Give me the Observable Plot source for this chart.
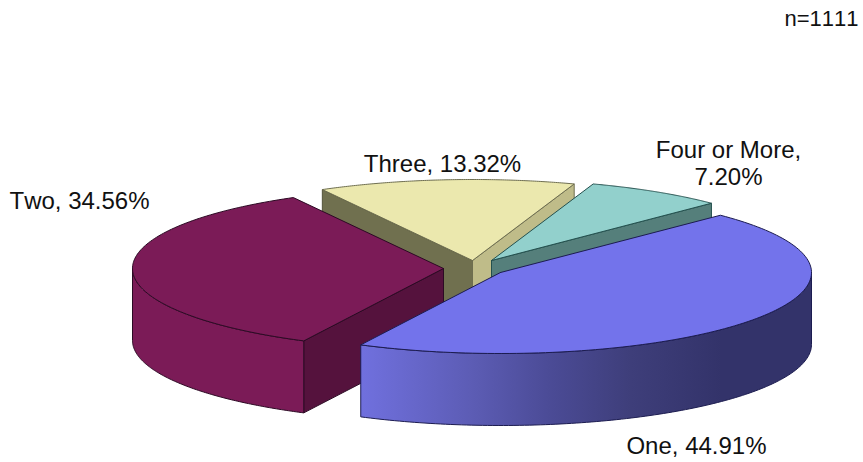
<!DOCTYPE html>
<html>
<head>
<meta charset="utf-8">
<script src="https://cdn.jsdelivr.net/npm/d3@7"></script>
<script src="https://cdn.jsdelivr.net/npm/@observablehq/plot@0.6"></script>
<style>
html,body{margin:0;padding:0;background:#fff}
svg{display:block}
svg text{font-kerning:none}
</style>
</head>
<body>
<div id="chart"></div>
<script>
// Data, in the order the slices run clockwise from the front-left corner
const categories = ["Two", "Three", "Four or More", "One"];
const shares = [34.56, 13.32, 7.20, 44.91];
const sampleSize = "n=1111";

// Colours per slice
const topColors = ["#7b1b57", "#ebe8ae", "#92d0cc", "#7373eb"];
const strokeColors = ["#2c0a24", "#6e6e50", "#24504e", "#1c1c50"];

// Pie layout in scale units
const startAngle = 116.7, rx = 311, ry = 81, depth = 72;
const centerX = [443, 472, 491, 500];
const centerY = [268, 260, 260, 272];

// Label layout
const labelText = ["Two, 34.56%", "Three, 13.32%", "Four or More,\n7.20%", "One, 44.91%"];
const labelX = [79, 442, 728, 696];
const labelY = [200, 163, 162, 445];

const total = d3.sum(shares);
const rad = d => d * Math.PI / 180;
let acc = startAngle;
const slices = categories.map((name, i) => {
  const a0 = acc, a1 = acc + shares[i] / total * 360;
  acc = a1;
  return {name, i, a0, a1, cx: centerX[i], cy: centerY[i]};
});
const rim = (s, t, dz = 0) => ({x: s.cx + rx * Math.cos(rad(t)), y: s.cy + ry * Math.sin(rad(t)) + dz});
const arc = (s, a, b, dz = 0) => d3.range(0, 121).map(k => rim(s, a + (b - a) * k / 120, dz));
const closed = pts => [...pts, pts[0]];

const polys = [];
const add = (pts, fill, stroke) => polys.push({pts: closed(pts), fill, stroke});
const cutFace = (s, t, fill, stroke) => {
  const p = rim(s, t), q = rim(s, t, depth), c = {x: s.cx, y: s.cy}, d = {x: s.cx, y: s.cy + depth};
  add([c, p, q, d], fill, stroke);
};
const outer = (s, a, b, fill, stroke) => add([...arc(s, a, b), ...arc(s, b, a, depth)], fill, stroke);
const topFace = s => add([{x: s.cx, y: s.cy}, ...arc(s, s.a0, s.a1)], topColors[s.i], strokeColors[s.i]);

const [two, three, four, one] = slices;
// back to front
cutFace(three, three.a0, "#70704f", "#55553c");
cutFace(three, three.a1, "#bfbc89", "#6e6e50");
topFace(three);
cutFace(four, four.a1, "#557f7b", "#24504e");
topFace(four);
cutFace(two, two.a0, "#55123d", "#2c0a24");
outer(two, 180, two.a0, "#7b1b57", "#2c0a24");
topFace(two);
outer(one, 0, one.a1 - 360, "url(#oneSide)", "#1c1c50");
topFace(one);

const rows = polys.flatMap((p, id) => p.pts.map(q => ({...q, id, fill: p.fill, stroke: p.stroke})));
const lineMarks = polys.map((p, id) => Plot.line(rows.filter(r => r.id === id), {
  x: "x", y: "y", fill: p.fill, stroke: p.stroke, strokeWidth: 1, curve: "linear"
}));

const gradient = () => {
  const ns = "http://www.w3.org/2000/svg";
  const defs = document.createElementNS(ns, "defs");
  const g = document.createElementNS(ns, "linearGradient");
  g.setAttribute("id", "oneSide");
  [[0, "#7070de"], [0.25, "#5c5cb4"], [0.42, "#4b4b96"], [0.6, "#3e3e7a"], [0.8, "#33336a"], [1, "#33336a"]].forEach(([o, c]) => {
    const st = document.createElementNS(ns, "stop");
    st.setAttribute("offset", o);
    st.setAttribute("stop-color", c);
    g.appendChild(st);
  });
  defs.appendChild(g);
  return defs;
};

const chart = Plot.plot({
  width: 863, height: 462,
  marginTop: 0, marginRight: 0, marginBottom: 0, marginLeft: 0,
  x: {domain: [0, 863], range: [0, 863], axis: null},
  y: {domain: [0, 462], range: [0, 462], axis: null},
  style: {background: "#fff", fontFamily: "'Liberation Sans', Arial, sans-serif"},
  marks: [
    gradient,
    ...lineMarks,
    Plot.text(labelText, {
      x: (d, i) => labelX[i], y: (d, i) => labelY[i], text: d => d,
      fontSize: 24, fill: "#111", textAnchor: "middle", lineHeight: 1.15
    }),
    Plot.text([sampleSize], {
      x: () => 858, y: () => 18, text: d => d, fontSize: 22, fill: "#111", textAnchor: "end"
    })
  ]
});
document.getElementById("chart").appendChild(chart);
</script>
</body>
</html>
